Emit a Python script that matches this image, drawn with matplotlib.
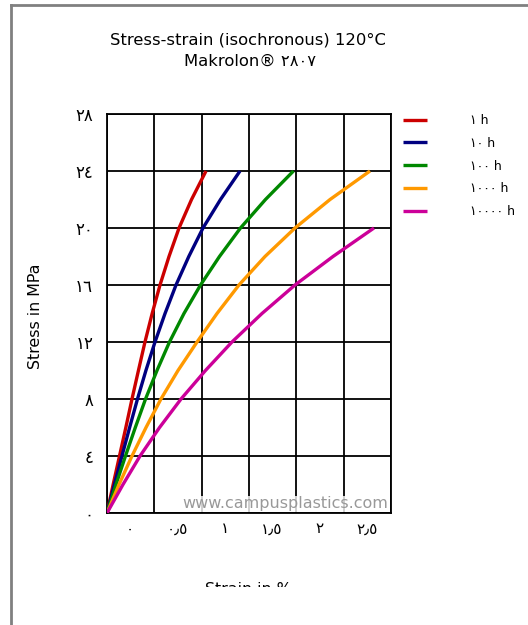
import matplotlib
matplotlib.use("Agg")
import matplotlib.pyplot as plt
from matplotlib.lines import Line2D
from matplotlib.transforms import Bbox, ScaledTranslation

plt.rcParams['font.family'] = ['DejaVu Sans']

# values (strain in %, stress in MPa)
stress_24 = [0, 2, 4, 6, 8, 10, 12, 14, 16, 18, 20, 22, 24]
stress_20 = [0, 2, 4, 6, 8, 10, 12, 14, 16, 18, 20]
red_x = [0, 0.065, 0.132, 0.199, 0.264, 0.332, 0.401, 0.477, 0.560, 0.655,
         0.761, 0.893, 1.046]
blue_x = [0, 0.078, 0.158, 0.239, 0.322, 0.411, 0.507, 0.613, 0.729, 0.864,
          1.014, 1.199, 1.405]
green_x = [0, 0.095, 0.195, 0.299, 0.407, 0.528, 0.660, 0.813, 0.988, 1.188,
           1.410, 1.674, 1.970]
orange_x = [0, 0.127, 0.264, 0.412, 0.570, 0.750, 0.951, 1.162, 1.394, 1.669,
            1.986, 2.356, 2.778]
magenta_x = [0, 0.169, 0.349, 0.555, 0.782, 1.040, 1.320, 1.637, 1.986, 2.387,
             2.820]

series_labels = ["\u0661 h", "\u0661\u0660 h", "\u0661\u0660\u0660 h",
                 "\u0661\u0660\u0660\u0660 h", "\u0661\u0660\u0660\u0660\u0660 h"]
series_colors = ["#cc0000", "#000080", "#008800", "#ff9900", "#cc0099"]

xticks = [0, 0.5, 1.0, 1.5, 2.0, 2.5, 3.0]
xticklabels = ["\u0660", "\u0660\u066b\u0665", "\u0661", "\u0661\u066b\u0665",
               "\u0662", "\u0662\u066b\u0665", ""]
yticks = [0, 4, 8, 12, 16, 20, 24, 28]
yticklabels = ["\u0660", "\u0664", "\u0668", "\u0661\u0662", "\u0661\u0666",
               "\u0662\u0660", "\u0662\u0664", "\u0662\u0668"]

W, H = 528, 625
fig = plt.figure(figsize=(W / 100, H / 100), dpi=100)
ax = fig.add_axes([107 / W, 1 - 513 / H, (391 - 107) / W, (513 - 114) / H])

curves = [(red_x, stress_24), (blue_x, stress_24), (green_x, stress_24),
          (orange_x, stress_24), (magenta_x, stress_20)]
for (xs, ys), c, lab in zip(curves, series_colors, series_labels):
    ax.plot(xs, ys, color=c, lw=2.4, label=lab, solid_capstyle='butt',
            solid_joinstyle='round', zorder=3)

ax.set_xlim(0, 3)
ax.set_ylim(0, 28)
ax.set_xticks(xticks)
ax.set_xticklabels(xticklabels, fontsize=11)
ax.set_yticks(yticks)
ax.set_yticklabels(yticklabels, fontsize=12)
ax.tick_params(length=0)
ax.tick_params(axis='y', pad=10)
ax.tick_params(axis='x', pad=6)
# the reference draws the strain labels half a cell to the right
shift = ScaledTranslation(23 / 100, 0, fig.dpi_scale_trans)
for lbl in ax.get_xticklabels():
    lbl.set_transform(lbl.get_transform() + shift)
ax.grid(True, color='black', lw=1.3)
for sp in ax.spines.values():
    sp.set_color('black')
    sp.set_linewidth(1.3)

ax.text(0.99, 0.004, "www.campusplastics.com", transform=ax.transAxes,
        ha='right', va='bottom', fontsize=11.5, color='#999999', zorder=4,
        bbox=dict(facecolor='white', edgecolor='none', alpha=0.8, pad=0.5))

ax.legend(loc='upper left', bbox_to_anchor=(403 / W, 1 - 114 / H),
          bbox_transform=fig.transFigure, frameon=False, fontsize=9,
          handlelength=1.9, handletextpad=3.5, labelspacing=0.78,
          borderaxespad=0, borderpad=0)

fig.text(248 / W, 1 - 40 / H, "Stress-strain (isochronous) 120\u00b0C",
         ha='center', va='center', fontsize=11.8)
fig.text(250 / W, 1 - 61 / H, "Makrolon\u00ae \u0662\u0668\u0660\u0667",
         ha='center', va='center', fontsize=11.8)
fig.text(35 / W, 1 - 316 / H, "Stress in MPa", rotation=90,
         ha='center', va='center', fontsize=11.4)
xl = fig.text(248 / W, 1 - 590 / H, "Strain in %", ha='center', va='center',
              fontsize=11.4)
xl.set_clip_box(Bbox.from_extents(0, H - 587, W, H))
xl.set_clip_on(True)

# grey frame along the top and left edge
fig.add_artist(Line2D([11 / W, 1], [1 - 5 / H, 1 - 5 / H], color='#808080', lw=2,
                      transform=fig.transFigure))
fig.add_artist(Line2D([11 / W, 11 / W], [0, 1 - 5 / H], color='#808080', lw=2,
                      transform=fig.transFigure))

fig.savefig("out.png", dpi=100)
